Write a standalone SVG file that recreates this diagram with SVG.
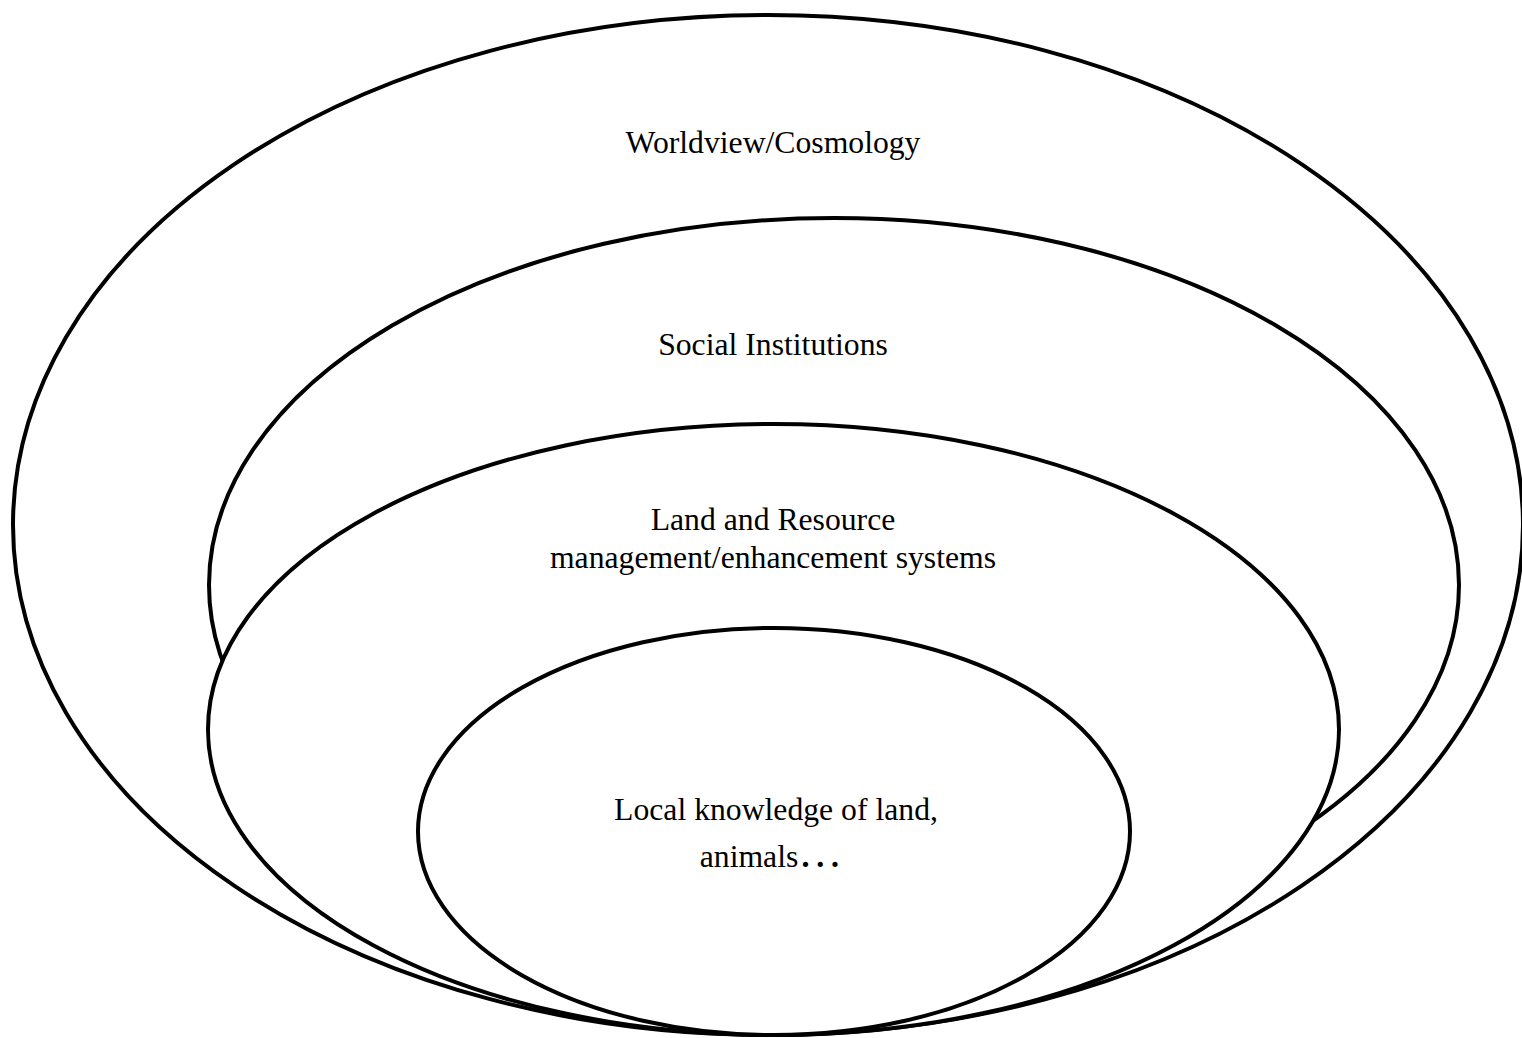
<svg xmlns="http://www.w3.org/2000/svg" width="1522" height="1038" viewBox="0 0 1522 1038">
<style>
.ring{fill:#fff;stroke:#000;stroke-width:4}
.lbl{font-family:"Liberation Serif","Times New Roman",serif;font-size:31.7px;fill:#000;text-anchor:middle}
</style>
<rect width="1522" height="1038" fill="#fff"/>
<g id="worldview">
<ellipse class="ring" cx="768" cy="525" rx="755" ry="510"/>
<text class="lbl" x="773" y="153">Worldview/Cosmology</text>
</g>
<g id="social">
<ellipse class="ring" cx="834" cy="585" rx="625" ry="367"/>
<text class="lbl" x="773" y="355">Social Institutions</text>
</g>
<g id="land">
<ellipse class="ring" cx="773.5" cy="729.5" rx="565.5" ry="305.5"/>
<text class="lbl" x="773" y="530">Land and Resource</text>
<text class="lbl" x="773" y="568">management/enhancement systems</text>
</g>
<g id="local">
<ellipse class="ring" cx="774" cy="831.5" rx="356" ry="203.5"/>
<text class="lbl" x="776" y="820">Local knowledge of land,</text>
<text class="lbl" x="771" y="867">animals<tspan font-size="44">…</tspan></text>
</g>
<g id="connectors"/>
</svg>
